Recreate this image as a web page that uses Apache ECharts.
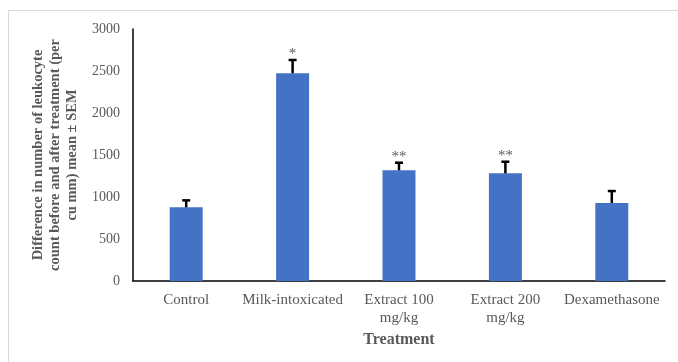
<!DOCTYPE html>
<html>
<head>
<meta charset="utf-8">
<script src="https://cdn.jsdelivr.net/npm/echarts@6/dist/echarts.min.js"></script>
<style>
  html, body { margin: 0; padding: 0; background: #fff; }
  #chart { width: 678px; height: 362px; }
</style>
</head>
<body>
<div id="chart"></div>
<script>
// Treatment groups and leukocyte count differences (mean ± SEM)
const categories = ['Control', 'Milk-intoxicated', 'Extract 100\nmg/kg', 'Extract 200\nmg/kg', 'Dexamethasone'];
const means = [877, 2473, 1318, 1282, 929];
const sem = [83, 158, 90, 138, 142];
const significance = ['', '*', '**', '**', ''];
const yTicks = [0, 500, 1000, 1500, 2000, 2500, 3000];

const FONT = '"Liberation Serif", "Times New Roman", serif';
const GRAY = '#595959';

const chart = echarts.init(document.getElementById('chart'), null, { renderer: 'canvas' });

const errorData = means.map((m, i) => [i, m, m + sem[i], significance[i]]);

chart.setOption({
  animation: false,
  backgroundColor: '#fff',
  graphic: [{
    type: 'rect',
    shape: { x: 8.5, y: 10.5, width: 720, height: 420 },
    style: { fill: 'none', stroke: '#d9d9d9', lineWidth: 1 },
    silent: true
  }],
  grid: { left: 133, right: 13, top: 29, bottom: 81 },
  xAxis: {
    type: 'category',
    data: categories,
    axisLine: { lineStyle: { color: '#000', width: 1.5 } },
    axisTick: { show: false },
    axisLabel: { fontFamily: FONT, fontSize: 15, color: GRAY, margin: 10, lineHeight: 18, interval: 0 },
    name: 'Treatment',
    nameLocation: 'middle',
    nameGap: 50,
    nameTextStyle: { fontFamily: FONT, fontSize: 16, fontWeight: 'bold', color: GRAY }
  },
  yAxis: {
    type: 'value',
    min: yTicks[0],
    max: yTicks[yTicks.length - 1],
    interval: 500,
    axisLine: { show: true, lineStyle: { color: '#000', width: 1.5 } },
    axisTick: { show: false },
    splitLine: { show: false },
    axisLabel: { fontFamily: FONT, fontSize: 14, color: GRAY, margin: 13, formatter: v => String(v) },
    name: 'Difference in number of leukocyte\ncount before and after treatment (per\ncu mm) mean ± SEM',
    nameLocation: 'middle',
    nameRotate: 90,
    nameGap: 52,
    nameTextStyle: { fontFamily: FONT, fontSize: 14.5, fontWeight: 'bold', color: GRAY, lineHeight: 17, align: 'center', padding: [0, 0, 0, 0] }
  },
  series: [
    {
      type: 'bar',
      data: means,
      barWidth: '31%',
      itemStyle: { color: '#4472C4' }
    },
    {
      type: 'custom',
      data: errorData,
      z: 10,
      renderItem: function (params, api) {
        const x = api.coord([api.value(0), api.value(1)])[0];
        const yBase = api.coord([api.value(0), api.value(1)])[1];
        const yTop = api.coord([api.value(0), api.value(2)])[1];
        const mark = errorData[params.dataIndex][3];
        const children = [
          { type: 'line', shape: { x1: x, y1: yBase, x2: x, y2: yTop }, style: { stroke: '#000', lineWidth: 2.5 } },
          { type: 'line', shape: { x1: x - 4, y1: yTop, x2: x + 4, y2: yTop }, style: { stroke: '#000', lineWidth: 2.5 } }
        ];
        if (mark) {
          children.push({
            type: 'text',
            style: {
              text: mark, x: x, y: yTop + 2,
              textAlign: 'center', textVerticalAlign: 'bottom',
              font: '15px ' + FONT, fill: GRAY
            }
          });
        }
        return { type: 'group', children: children };
      }
    }
  ]
});
</script>
</body>
</html>
